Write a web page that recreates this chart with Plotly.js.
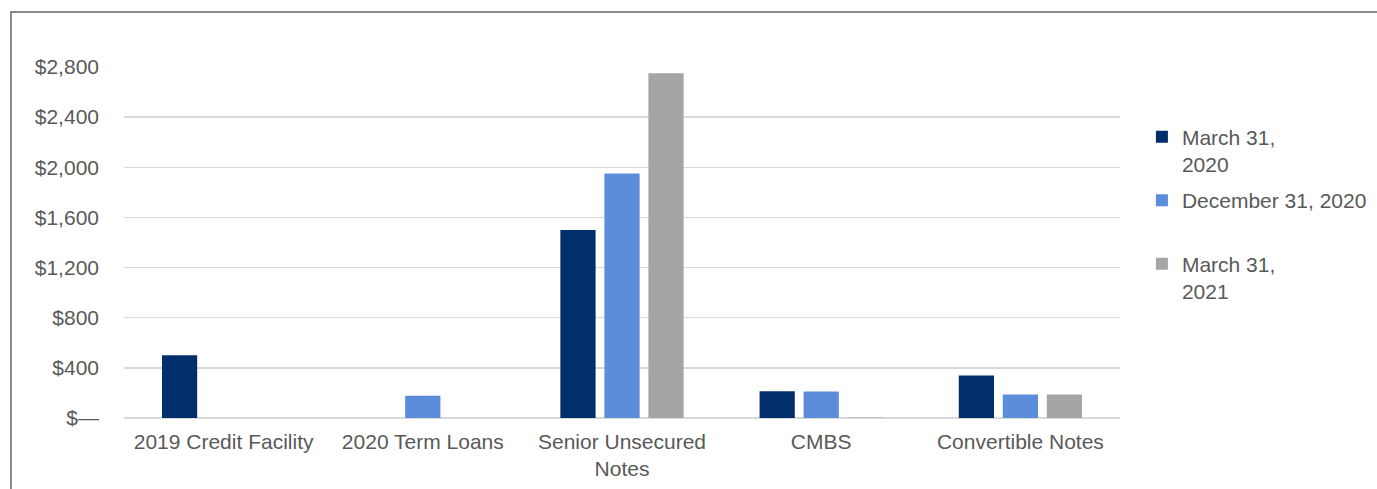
<!DOCTYPE html>
<html>
<head>
<meta charset="utf-8">
<script src="https://cdn.plot.ly/plotly-3.0.1.min.js"></script>
<style>
  html, body { margin: 0; padding: 0; background: #fff; }
  #wrap { position: relative; width: 1377px; height: 489px; overflow: hidden; }
  #chart { position: absolute; left: 0; top: 0; width: 1377px; height: 489px; }
  #frame { position: absolute; left: 10px; top: 11px; width: 1400px; height: 500px;
           border-top: 2px solid #8a8a8a; border-left: 2px solid #8a8a8a; pointer-events: none; }
</style>
</head>
<body>
<div id="wrap">
  <div id="chart"></div>
  <div id="frame"></div>
</div>
<script>
const categories = ["2019 Credit Facility", "2020 Term Loans", "Senior Unsecured<br>Notes", "CMBS", "Convertible Notes"];
const seriesNames = ["March 31,<br>2020", "December 31, 2020<br> ", "March 31,<br>2021"];
const march2020 = [500, 0, 1500, 213, 340];
const dec2020 = [0, 178, 1950, 212, 188];
const march2021 = [0, 0, 2750, 4, 188];
const tickVals = [0, 400, 800, 1200, 1600, 2000, 2400, 2800];
const tickText = ["$—", "$400", "$800", "$1,200", "$1,600", "$2,000", "$2,400", "$2,800"];
const colors = ["#002f6c", "#5b8ddb", "#a5a5a5"];

const seriesValues = [march2020, dec2020, march2021];
const traces = seriesValues.map((vals, i) => ({
  type: "bar",
  name: seriesNames[i],
  x: categories,
  y: vals,
  marker: { color: colors[i], line: { width: 0 } },
  legendgroup: "g" + i,
  hoverinfo: "skip"
}));

const font = { family: "Liberation Sans, Arial, sans-serif", size: 21, color: "#595959" };

const layout = {
  width: 1377,
  height: 489,
  margin: { l: 124, r: 257, t: 67, b: 71, autoexpand: false },
  paper_bgcolor: "#ffffff",
  plot_bgcolor: "#ffffff",
  font: font,
  barmode: "group",
  bargap: 0.337,
  bargroupgap: 0.2,
  showlegend: true,
  legend: {
    x: 1.022, xanchor: "left",
    y: 0.859, yanchor: "top",
    font: font,
    valign: "top",
    traceorder: "grouped",
    tracegroupgap: 6,
    itemwidth: 30,
    bgcolor: "rgba(0,0,0,0)"
  },
  xaxis: {
    type: "category",
    showgrid: false,
    showline: false,
    ticks: "",
    tickfont: font,
    ticklabelstandoff: 9
  },
  yaxis: {
    range: [0, 2800],
    tickvals: tickVals,
    ticktext: tickText,
    showgrid: true,
    gridcolor: "#d9d9d9",
    gridwidth: 1.5,
    zeroline: true,
    zerolinecolor: "#d9d9d9",
    zerolinewidth: 2,
    showline: false,
    ticks: "",
    tickfont: font,
    ticklabelstandoff: 24
  }
};

Plotly.newPlot("chart", traces, layout, { staticPlot: true, displayModeBar: false });
</script>
</body>
</html>
